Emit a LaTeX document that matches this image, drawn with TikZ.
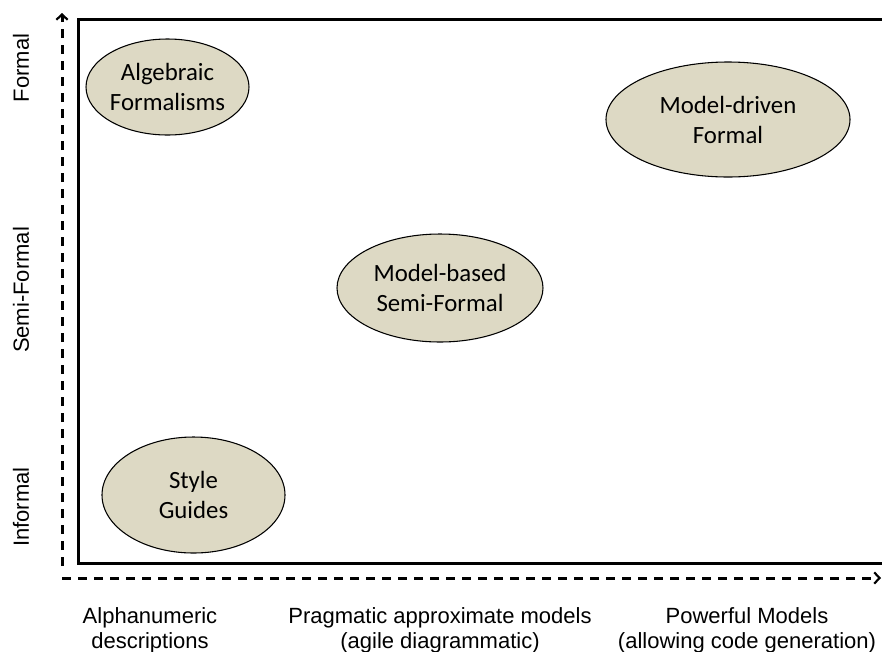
\documentclass[tikz,border=0pt]{standalone}
\usepackage{fontspec}
\setmainfont{Liberation Sans}
\newfontfamily\bubblefont{Carlito}
\usetikzlibrary{shapes.geometric,arrows.meta}
\definecolor{bubblefill}{HTML}{DDD9C4}

\begin{document}
\begin{tikzpicture}[x=0.75pt,y=-0.75pt,
  axisline/.style={line width=2.25pt, dash pattern=on 6.75pt off 5.25pt,
    -{Straight Barb[length=4pt,width=8.5pt,line width=1.6pt]}},
  frame/.style={line width=2.25pt},
  bubble/.style={ellipse, draw=black, line width=0.8pt, fill=bubblefill,
    inner sep=0pt, align=center,
    font=\bubblefont\fontsize{18.6pt}{22.5pt}\selectfont},
  axislabel/.style={align=center, inner sep=0pt,
    font=\fontsize{16.5pt}{18.75pt}\selectfont}]

  \useasboundingbox (0,0) rectangle (882,651);

  % plotting frame (its right side runs off the page)
  \draw[frame] (78,19) rectangle (890,563);

  % dashed axes
  \coordinate (yfoot) at (62,566);
  \coordinate (ytip) at (62,13);
  \coordinate (xfoot) at (62,578);
  \coordinate (xtip) at (881,578);
  \draw[axisline] (yfoot) -- (ytip);
  \draw[axisline] (xfoot) -- (xtip);

  % vertical axis labels
  \node[axislabel, rotate=90] (lformal) at (21,68) {Formal};
  \node[axislabel, rotate=90] (lsemi) at (21,290) {Semi-Formal};
  \node[axislabel, rotate=90] (linformal) at (21,507) {Informal};

  % horizontal axis labels
  \node[axislabel] (lalpha) at (150,630) {Alphanumeric\\descriptions};
  \node[axislabel] (lprag) at (440,630) {Pragmatic approximate models\\(agile diagrammatic)};
  \node[axislabel] (lpower) at (747,630) {Powerful Models\\(allowing code generation)};

  % categories
  \node[bubble, minimum width=122.25pt, minimum height=72pt] (alg) at (167.5,87) {Algebraic\\Formalisms};
  \node[bubble, minimum width=183pt, minimum height=86.25pt] (mdf) at (728,119.5) {Model-driven\\Formal};
  \node[bubble, minimum width=154.5pt, minimum height=81pt] (mbs) at (440,288) {Model-based\\Semi-Formal};
  \node[bubble, minimum width=137.25pt, minimum height=87pt] (sg) at (193.5,495) {Style\\Guides};
\end{tikzpicture}
\end{document}
